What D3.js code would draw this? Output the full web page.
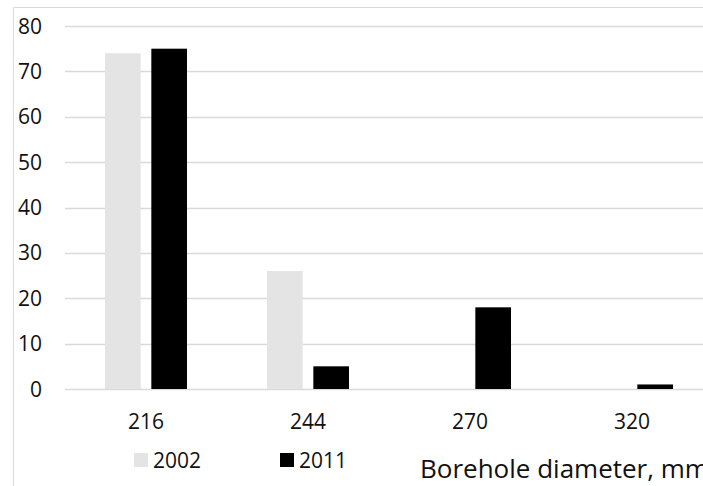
<!DOCTYPE html>
<html>
<head>
<meta charset="utf-8">
<script src="https://cdn.jsdelivr.net/npm/d3@7"></script>
<style>
  body { margin: 0; background: #fff; }
  svg { display: block; font-family: "Open Sans", "Noto Sans", sans-serif; }
</style>
</head>
<body>
<svg id="chart" width="703" height="486"></svg>
<script>
const width = 703;
const height = 486;

// data
const categories = ['216', '244', '270', '320'];
const seriesNames = ['2002', '2011'];
const values2002 = [74, 26, 0, 0];
const values2011 = [75, 5, 18, 1];
const yTicks = [0, 10, 20, 30, 40, 50, 60, 70, 80];

const colors = { '2002': '#e4e4e4', '2011': '#000000' };

const svg = d3.select('#chart');

// frame of the original figure (cropped at right and bottom)
svg.append('line').attr('x1', 13.5).attr('x2', 13.5).attr('y1', 7.5).attr('y2', height)
  .attr('stroke', '#d9d9d9').attr('stroke-width', 1);
svg.append('line').attr('x1', 13.5).attr('x2', width).attr('y1', 7.5).attr('y2', 7.5)
  .attr('stroke', '#d9d9d9').attr('stroke-width', 1);

const x = d3.scaleBand().domain(categories).range([65, 713]).paddingInner(0).paddingOuter(0);
const x1 = d3.scaleBand().domain(seriesNames).range([0, 82]).paddingInner(0.23);
const y = d3.scaleLinear().domain([0, 80]).range([389, 26]);

// gridlines
svg.append('g').selectAll('line').data(yTicks).join('line')
  .attr('x1', 65).attr('x2', width)
  .attr('y1', d => Math.round(y(d)) + 0.5).attr('y2', d => Math.round(y(d)) + 0.5)
  .attr('stroke', '#dadada').attr('stroke-width', 1.5);

// y labels
svg.append('g').selectAll('text').data(yTicks).join('text')
  .attr('x', 42).attr('y', d => y(d))
  .attr('dy', '0.36em')
  .attr('text-anchor', 'end')
  .attr('fill', '#111')
  .style('font-size', '21px')
  .text(d => d);

// bars
const rows = categories.map((c, i) => ({ cat: c, vals: [
  { s: '2002', v: values2002[i] },
  { s: '2011', v: values2011[i] }
]}));

const groups = svg.append('g').selectAll('g').data(rows).join('g')
  .attr('transform', d => `translate(${x(d.cat) + x.bandwidth() / 2 - 41},0)`);

groups.selectAll('rect').data(d => d.vals.filter(e => e.v > 0)).join('rect')
  .attr('x', d => x1(d.s))
  .attr('width', x1.bandwidth())
  .attr('y', d => y(d.v))
  .attr('height', d => y(0) - y(d.v))
  .attr('fill', d => colors[d.s]);

// x labels
svg.append('g').selectAll('text').data(categories).join('text')
  .attr('x', d => x(d) + x.bandwidth() / 2)
  .attr('y', 421)
  .attr('dy', '0.36em')
  .attr('text-anchor', 'middle')
  .attr('fill', '#111')
  .style('font-size', '21px')
  .text(d => d);

// legend
const legendX = [134, 280];
const legend = svg.append('g').selectAll('g').data(seriesNames).join('g')
  .attr('transform', (d, i) => `translate(${legendX[i]},453)`);
legend.append('rect').attr('width', 14).attr('height', 14).attr('fill', d => colors[d]);
legend.append('text').attr('x', 19).attr('y', 7).attr('dy', '0.36em')
  .attr('fill', '#111').style('font-size', '21px').text(d => d);

// axis title
svg.append('text')
  .attr('x', 420).attr('y', 469).attr('dy', '0.36em')
  .attr('fill', '#111')
  .style('font-size', '26px')
  .text('Borehole diameter, mm');
</script>
</body>
</html>
